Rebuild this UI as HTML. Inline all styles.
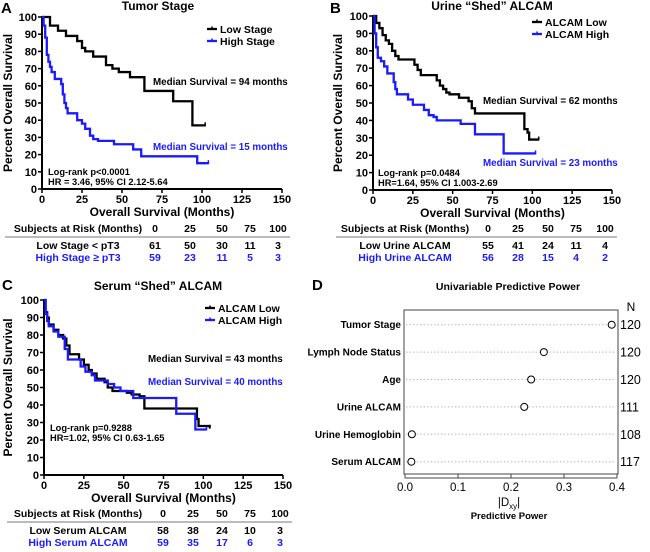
<!DOCTYPE html>
<html><head><meta charset="utf-8">
<style>
body{margin:0;background:#fff;}
svg{display:block;font-family:"Liberation Sans",Arial,sans-serif;font-weight:bold;}
</style></head>
<body>
<svg id="fig" width="650" height="552" viewBox="0 0 650 552" xmlns="http://www.w3.org/2000/svg"></svg>
<script>
// ---- Panel A data ----
const aLowT=[0,5,10,15,22,25,27,32,40,44,48,55,64,82,94,102];
const aLowS=[100,95,92,89,86,82,80,77,72,70,68,65,57,51,37,37];
const aHighT=[0,1,2,3,4,5,6,8,12,13,14,15,16,22,25,27,30,32,35,45,57,62,97,104];
const aHighS=[100,95,88,78,74,71,68,64,61,55,50,47,44,40,38,35,31,29,28,26,23,19,15,15];
// ---- Panel B data ----
const bLowT=[0,2,4,6,8,10,12,14,16,26,28,30,40,42,44,46,48,54,60,62,64,95,97,98,104];
const bLowS=[100,96,93,89,86,84,80,77,75,72,69,66,63,60,58,56,55,53,51,47,44,35,33,29,29];
const bHighT=[0,1,2,3,5,7,9,13,14,15,22,25,32,35,38,40,55,64,82,102];
const bHighS=[100,90,82,76,74,71,67,62,58,55,52,49,46,43,42,40,38,32,21,21];
// ---- Panel C data ----
const cLowT=[0,1,2,3,6,9,12,14,16,22,25,28,30,33,38,40,43,52,55,60,63,96,97,104];
const cLowS=[100,93,90,86,83,80,78,74,69,66,63,60,58,55,53,50,48,47,46,45,38,32,28,27];
const cHighT=[0,1,2,3,6,9,13,15,23,26,30,32,40,44,48,56,83,95,102];
const cHighS=[100,92,88,85,82,79,72,66,62,59,57,54,52,50,48,44,35,26,26];
// ---- Panel D data ----
const dLabels=["Tumor Stage","Lymph Node Status","Age","Urine ALCAM","Urine Hemoglobin","Serum ALCAM"];
const dValues=[0.39,0.262,0.238,0.225,0.013,0.012];
const dN=["120","120","120","111","108","117"];
const xTicks=[0,25,50,75,100,125,150];
const yTicks=[0,10,20,30,40,50,60,70,80,90,100];
const dTicks=[0,0.1,0.2,0.3,0.4];

const NS="http://www.w3.org/2000/svg";
const svg=document.getElementById('fig');
function el(tag,attrs,parent,text){const e=document.createElementNS(NS,tag);for(const k in attrs)e.setAttribute(k,attrs[k]);if(text!==undefined)e.textContent=text;(parent||svg).appendChild(e);return e;}
function txt(x,y,s,size,anchor,fill,parent){const t=el('text',{x:x,y:y,'font-size':size,'text-anchor':anchor||'start',fill:fill||'#000'},parent,s);return t;}

function kmPanel(o){
  const g=el('g',{});
  
  
  const sx=t=>o.x0+(o.x1-o.x0)*t/150;
  const sy=v=>o.y0-(o.y0-o.y1)*v/100;
  const ax=el('g',{},g);
  
  
  el('line',{x1:o.x0,y1:o.y1-1,x2:o.x0,y2:o.y0,stroke:'#000','stroke-width':2},ax);
  el('line',{x1:o.x0,y1:o.y0,x2:o.x1,y2:o.y0,stroke:'#000','stroke-width':2},ax);
  yTicks.forEach(v=>{el('line',{x1:o.x0-4,y1:sy(v),x2:o.x0,y2:sy(v),stroke:'#000','stroke-width':1.5},ax);
    const t=txt(o.x0-5,sy(v)+4,String(v),11,'end','#000',ax);
    });
  xTicks.forEach(v=>{el('line',{x1:sx(v),y1:o.y0,x2:sx(v),y2:o.y0+4,stroke:'#000','stroke-width':1.5},ax);
    const t=txt(sx(v),o.y0+14,String(v),11,'middle','#000',ax);
    });
  const xt=txt((o.x0+o.x1)/2,o.y0+27,'Overall Survival (Months)',12,'middle','#000',g);
  
  const yc=(o.y0+o.y1)/2;
  const yt=txt(o.yl,yc,'Percent Overall Survival',12,'middle','#000',g);
  yt.setAttribute('transform','rotate(-90 '+o.yl+' '+yc+')');
  
  const ti=txt(o.tx,o.ty,o.title,12,'middle','#000',g);
  
  const lt=txt(o.lx,o.ly,o.letter,15,'start','#000',g);
  
  o.series.forEach(s=>{
    let d='M'+sx(s.t[0])+','+sy(s.s[0]);
    for(let i=1;i<s.t.length;i++){d+=' H'+sx(s.t[i])+' V'+sy(s.s[i]);}
    const p=el('path',{d:d,fill:'none',stroke:s.c,'stroke-width':2.3},g);
    
    const lx=sx(s.t[s.t.length-1]), ly=sy(s.s[s.s.length-1]);
    el('line',{x1:lx,y1:ly-3,x2:lx,y2:ly+1,stroke:s.c,'stroke-width':1.5},g);
  });
  o.legend.forEach((L,i)=>{
    const lg=el('g',{},g);
    
    const y=o.legY+i*12;
    el('line',{x1:o.legX,y1:y,x2:o.legX+10,y2:y,stroke:L.c,'stroke-width':2.3},lg);
    el('line',{x1:o.legX+5,y1:y-2.5,x2:o.legX+5,y2:y,stroke:L.c,'stroke-width':1.5},lg);
    txt(o.legX+13,y+4,L.t,10.5,'start','#000',lg);
  });
  o.notes.forEach(N=>{const t=txt(N.x,N.y,N.t,N.s||9.8,'start',N.c||'#000',g);
    });
  const tb=el('g',{},g);
  
  txt(o.hx,o.hy,'Subjects at Risk (Months)',10.5,'middle','#000',tb);
  [0,25,50,75,100].forEach((v,i)=>txt(o.cols[i],o.hy,String(v),10.5,'middle','#000',tb));
  el('line',{x1:o.x0-37,y1:o.hy+5,x2:o.cols[4]+12,y2:o.hy+5,stroke:'#777','stroke-width':1},tb);
  o.rows.forEach((r,j)=>{
    const y=o.hy+17+j*12;
    txt(o.rx,y,r.t,10.5,'middle',r.c,tb);
    r.v.forEach((v,i)=>txt(o.cols[i],y,String(v),10.5,'middle',r.c,tb));
  });
}
const BLUE='#1a1aff';
kmPanel({name:'panel-a-tumor-stage',x0:42,x1:282,y0:189,y1:17,yl:12,tx:158,ty:10,title:'Tumor Stage',letter:'A',lx:1,ly:13,
  series:[{t:aLowT,s:aLowS,c:'#000',n:'low-stage-curve'},{t:aHighT,s:aHighS,c:BLUE,n:'high-stage-curve'}],
  legend:[{t:'Low Stage',c:'#000'},{t:'High Stage',c:BLUE}],legX:207,legY:29,
  notes:[{x:153,y:85,t:'Median Survival = 94 months',n:'median-low'},{x:153,y:150,t:'Median Survival = 15 months',c:BLUE,n:'median-high'},
    {x:48,y:175,t:'Log-rank p<0.0001',s:9.3,n:'logrank'},{x:48,y:185,t:'HR = 3.46, 95% CI 2.12-5.64',s:9.3,n:'hazard-ratio'}],
  hx:78,hy:232,cols:[155,190,222,250,278],rx:78,
  rows:[{t:'Low Stage < pT3',c:'#000',v:[61,50,30,11,3]},{t:'High Stage ≥ pT3',c:BLUE,v:[59,23,11,5,3]}]});
kmPanel({name:'panel-b-urine-alcam',x0:373,x1:612,y0:190,y1:16,yl:342,tx:492,ty:10,title:'Urine “Shed” ALCAM',letter:'B',lx:330,ly:13,
  series:[{t:bLowT,s:bLowS,c:'#000',n:'alcam-low-curve'},{t:bHighT,s:bHighS,c:BLUE,n:'alcam-high-curve'}],
  legend:[{t:'ALCAM Low',c:'#000'},{t:'ALCAM High',c:BLUE}],legX:532,legY:22,
  notes:[{x:483,y:104,t:'Median Survival = 62 months',n:'median-low'},{x:483,y:166,t:'Median Survival = 23 months',c:BLUE,n:'median-high'},
    {x:378,y:176,t:'Log-rank p=0.0484',s:9.3,n:'logrank'},{x:378,y:186,t:'HR=1.64, 95% CI 1.003-2.69',s:9.3,n:'hazard-ratio'}],
  hx:405,hy:232,cols:[488,518,548,576,605],rx:405,
  rows:[{t:'Low Urine ALCAM',c:'#000',v:[55,41,24,11,4]},{t:'High Urine ALCAM',c:BLUE,v:[56,28,15,4,2]}]});
kmPanel({name:'panel-c-serum-alcam',x0:44,x1:283,y0:475,y1:300,yl:12,tx:158,ty:290,title:'Serum “Shed” ALCAM',letter:'C',lx:2,ly:290,
  series:[{t:cLowT,s:cLowS,c:'#000',n:'alcam-low-curve'},{t:cHighT,s:cHighS,c:BLUE,n:'alcam-high-curve'}],
  legend:[{t:'ALCAM Low',c:'#000'},{t:'ALCAM High',c:BLUE}],legX:205,legY:308,
  notes:[{x:148,y:362,t:'Median Survival = 43 months',n:'median-low'},{x:148,y:385,t:'Median Survival = 40 months',c:BLUE,n:'median-high'},
    {x:50,y:431,t:'Log-rank p=0.9288',s:9.3,n:'logrank'},{x:50,y:441,t:'HR=1.02, 95% CI 0.63-1.65',s:9.3,n:'hazard-ratio'}],
  hx:78,hy:517,cols:[163,193,222,250,280],rx:78,
  rows:[{t:'Low Serum ALCAM',c:'#000',v:[58,38,24,10,3]},{t:'High Serum ALCAM',c:BLUE,v:[59,35,17,6,3]}]});

(function(){
  const g=el('g',{});
  
  
  const bx0=404,bx1=618,by0=310,by1=474;
  const sx=v=>405+(617-405)*v/0.4;
  const rowY=i=>324.7+i*27.4;
  const lt=txt(312,290,'D',15,'start','#000',g);
  
  const ti=txt(508,290,'Univariable Predictive Power',10.5,'middle','#000',g);
  
  el('rect',{x:bx0,y:by0,width:bx1-bx0,height:by1-by0,fill:'none',stroke:'#444','stroke-width':1},g);
  const nh=el('text',{x:631,y:311,'font-size':12,'text-anchor':'middle','font-weight':'normal'},g,'N');
  
  dLabels.forEach((l,i)=>{
    const y=rowY(i);
    el('line',{x1:bx0+2,y1:y,x2:bx1-2,y2:y,stroke:'#bbb','stroke-width':1,'stroke-dasharray':'1.5,2'},g);
    const t=txt(401,y+3.5,l,10,'end','#000',g);
    
    const c=el('circle',{cx:sx(dValues[i]),cy:y,r:3.5,fill:'#fff',stroke:'#000','stroke-width':1},g);
    
    
    const n=el('text',{x:620,y:y+4.5,'font-size':12.5,'font-weight':'normal'},g,dN[i]);
    
  });
  dTicks.forEach(v=>{
    el('line',{x1:sx(v),y1:by1,x2:sx(v),y2:by1+4,stroke:'#444','stroke-width':1},g);
    const t=el('text',{x:sx(v),y:491,'font-size':11.5,'text-anchor':'middle','font-weight':'normal'},g,v.toFixed(1));
    
  });
  el('line',{x1:sx(0),y1:by1+4,x2:sx(0.4),y2:by1+4,stroke:'#444','stroke-width':1},g);
  const xa=el('text',{x:509,y:506,'font-size':11.5,'text-anchor':'middle','font-weight':'normal'},g);
  
  xa.innerHTML='|D<tspan font-size="8" dy="3">xy</tspan><tspan dy="-3">|</tspan>';
  const xt=txt(509,519,'Predictive Power',9.5,'middle','#000',g);
  
})();
</script>
</body></html>
